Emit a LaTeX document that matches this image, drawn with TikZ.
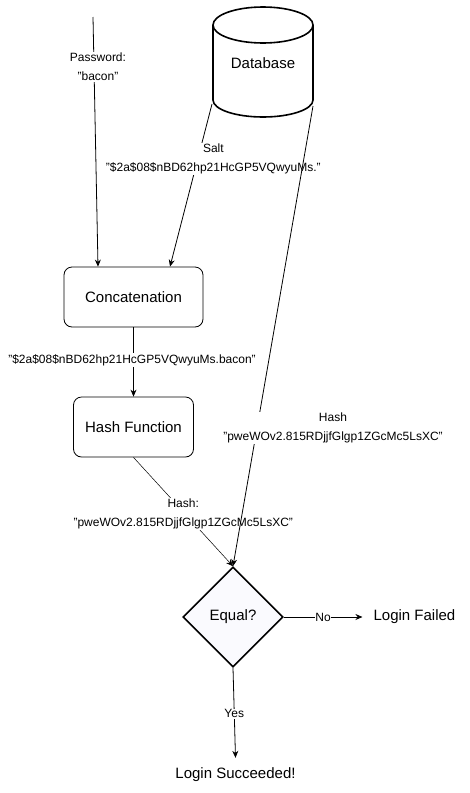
\documentclass[tikz,border=0pt]{standalone}
\usepackage{fontspec}
\setmainfont{Liberation Sans}
\usetikzlibrary{shapes.geometric,arrows.meta}

\definecolor{decisionFill}{RGB}{250,250,254}

\tikzset{
  stepbox/.style={draw,line width=0.8pt,rounded corners=8pt,fill=white,inner sep=0pt,font=\fontsize{15}{17}\selectfont},
  decision/.style={draw,line width=1.6pt,diamond,aspect=1,inner sep=0pt,minimum width=100pt,minimum height=100pt,fill=decisionFill,font=\fontsize{15}{17}\selectfont},
  endtext/.style={inner sep=0pt,font=\fontsize{15}{17}\selectfont},
  flow/.style={-{Stealth[length=7pt,width=6pt]},line width=0.8pt},
  lbl/.style={fill=white,inner sep=1pt,align=center,font=\fontsize{12}{19}\selectfont}
}

\begin{document}
\begin{tikzpicture}[x=1pt,y=1pt]
\useasboundingbox (0,0) rectangle (470,-793);

% database cylinder
\draw[line width=1.6pt,fill=white] (213,-25) -- (213,-100) arc[start angle=180,end angle=360,x radius=50,y radius=17] -- (313,-25) arc[start angle=0,end angle=180,x radius=50,y radius=18] -- cycle;
\draw[line width=1.6pt] (213,-25) arc[start angle=180,end angle=360,x radius=50,y radius=18];
\node[font=\fontsize{15}{17}\selectfont] (db) at (263,-63) {Database};
\coordinate (dbL) at (212,-104);
\coordinate (dbR) at (313,-106);
\coordinate (pwIn) at (93,-17);

% boxes
\node[stepbox,minimum width=139pt,minimum height=60pt] (concat) at (133.5,-297) {Concatenation};
\node[stepbox,minimum width=120pt,minimum height=60pt] (hashfn) at (133.5,-427) {Hash Function};
\node[decision] (equal) at (233,-617) {Equal?};
\node[endtext] (failed) at (414.5,-617) {Login Failed};
\node[endtext] (success) at (235.5,-775) {Login Succeeded!};

% connectors
\draw[flow] (pwIn) -- ([xshift=-35.5pt]concat.north)
  node[lbl,pos=0.2,xshift=4pt] {Password:\\"bacon"};
\draw[flow] (dbL) -- ([xshift=36.5pt]concat.north)
  node[lbl,pos=0.337,xshift=15.5pt] {Salt\\"\$2a\$08\$nBD62hp21HcGP5VQwyuMs."};
\draw[flow] (concat) -- (hashfn)
  node[lbl,pos=0.47,xshift=-1.5pt] {"\$2a\$08\$nBD62hp21HcGP5VQwyuMs.bacon"};
\draw[flow,line width=0.5pt] (hashfn.south) -- (equal.north)
  node[lbl,pos=0.52,xshift=-2pt] {Hash:\\"pweWOv2.815RDjjfGlgp1ZGcMc5LsXC"};
\draw[flow] (dbR) -- (equal.north)
  node[lbl,pos=0.7,xshift=76pt] {Hash\\"pweWOv2.815RDjjfGlgp1ZGcMc5LsXC"};
\draw[flow] (equal.east) -- ([xshift=-11pt]failed.west)
  node[lbl,pos=0.5,inner sep=0pt] {No};
\draw[flow] (equal.south) -- ([yshift=10pt]success.north)
  node[lbl,pos=0.51] {Yes};
\end{tikzpicture}
\end{document}
